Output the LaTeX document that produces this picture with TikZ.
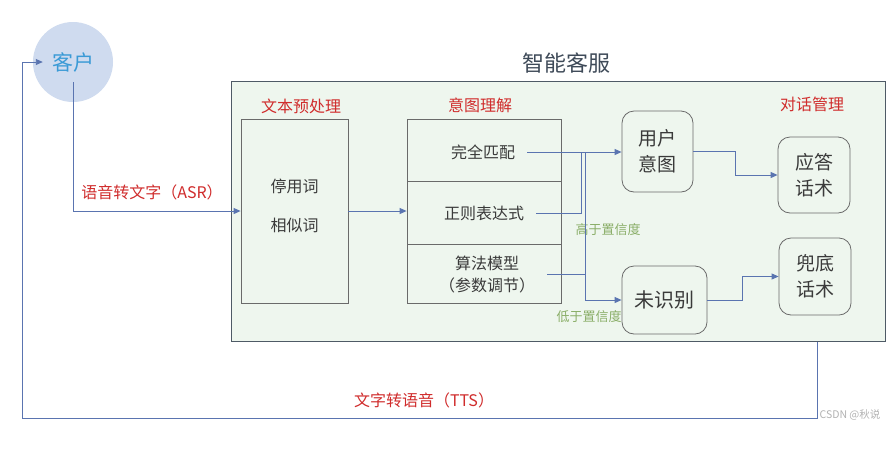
\documentclass[tikz,border=0pt]{standalone}
\usepackage{fontspec}
\setmainfont{Noto Sans CJK SC}
\usetikzlibrary{arrows.meta,calc}
\definecolor{arrowc}{HTML}{5A74B0}
\definecolor{redlab}{HTML}{D02C2C}
\definecolor{greenlab}{HTML}{8AAE68}
\definecolor{boxline}{HTML}{6A6A6A}
\definecolor{txt}{HTML}{3A3A3A}
\definecolor{svcfill}{HTML}{EEF6EE}
\definecolor{svcline}{HTML}{4E5A66}
\definecolor{clientfill}{HTML}{CFDBEF}
\definecolor{clienttxt}{HTML}{3A9AD6}
\definecolor{titlec}{HTML}{3E4A58}
\tikzset{
  arr/.style={draw=arrowc, line width=0.9pt, -{Triangle[length=7pt,width=6pt]}},
  ln/.style={draw=arrowc, line width=0.9pt},
  sqbox/.style={draw=boxline, line width=0.8pt, inner sep=0pt},
  rbox/.style={draw=boxline, line width=0.8pt, rounded corners=12pt, inner sep=0pt, align=center, text=txt, font=\fontsize{19}{26}\selectfont},
  celltxt/.style={text=txt, font=\fontsize{16}{21}\selectfont, inner sep=2pt, align=center},
  redlbl/.style={text=redlab, font=\fontsize{16}{20}\selectfont},
  grnlbl/.style={text=greenlab, font=\fontsize{13}{16}\selectfont},
}
\begin{document}
\begin{tikzpicture}[x=1pt,y=-1pt]
\useasboundingbox (0,0) rectangle (888,448);
\fill[white] (0,0) rectangle (888,448);

% container
\node[draw=svcline, fill=svcfill, line width=0.9pt, minimum width=654pt, minimum height=260pt, inner sep=0pt, anchor=north west] (svc) at (231,81) {};
\node[text=titlec, font=\fontsize{22}{26}\selectfont] (title) at (566,63) {智能客服};

% client
\node[circle, fill=clientfill, minimum size=80pt, inner sep=0pt, text=clienttxt, font=\fontsize{21}{24}\selectfont] (client) at (73,62) {客户};

% section labels
\node[redlbl] (lpre) at (301,106) {文本预处理};
\node[redlbl] (lint) at (480,105) {意图理解};
\node[redlbl] (ldlg) at (812,104) {对话管理};

% preprocessing box
\node[sqbox, minimum width=107pt, minimum height=184pt] (pre) at (294.5,211) {};
\node[celltxt] (w1) at (294.5,186) {停用词};
\node[celltxt] (w2) at (294.5,225) {相似词};

% intent cells
\node[sqbox, minimum width=154pt, minimum height=62pt] (c1) at (484,150) {};
\node[sqbox, minimum width=154pt, minimum height=63pt] (c2) at (484,212.5) {};
\node[sqbox, minimum width=154pt, minimum height=59pt] (c3) at (484,273.5) {};
\node[celltxt] (m1) at (483,152) {完全匹配};
\node[celltxt] (m2) at (484,213) {正则表达式};
\node[celltxt, font=\fontsize{16}{22}\selectfont] (m3) at (487,274) {算法模型\\（参数调节）};

% right boxes
\node[rbox, minimum width=71pt, minimum height=81pt] (user) at (657.5,151.5) {用户\\意图};
\node[rbox, minimum width=72pt, minimum height=76pt] (ans) at (814,175) {应答\\话术};
\node[rbox, minimum width=85pt, minimum height=68pt, font=\fontsize{20}{24}\selectfont] (unk) at (664.5,300) {未识别};
\node[rbox, minimum width=72pt, minimum height=77pt] (fb) at (815,276.5) {兜底\\话术};

% confidence labels
\node[grnlbl] (hi) at (608,230) {高于置信度};
\node[grnlbl] (lo) at (589,317) {低于置信度};

% flow labels
\node[redlbl] (asr) at (152,192) {语音转文字（ASR）};
\node[redlbl] (tts) at (424,400) {文字转语音（TTS）};

% watermark
\node[text=gray!60, font=\fontsize{10.5}{12}\selectfont] (wm) at (850,415) {CSDN @秋说};

% junction coordinates
\coordinate (j1) at (581,152);
\coordinate (j2) at (585,152);
\coordinate (j3) at (585,300);
\coordinate (b1) at (817,418);
\coordinate (b2) at (22,418);

% connectors
\draw[arr] ([yshift=-20pt]client.center) |- (pre.west);
\draw[arr] (pre.east) -- (pre.east -| c2.west);
\draw[arr] ([xshift=10pt]m1.east) -- (m1.east -| user.west);
\draw[ln] ([xshift=10pt]m2.east) -| (j1);
\draw[ln] ([xshift=10pt]m3.east |- 0,274) -- (585,274);
\draw[arr] (j2) -- (j3) -- (j3 -| unk.west);
\draw[arr] (user.east) -- ++(42,0) |- (ans.west);
\draw[arr] (unk.east) -- ++(35,0) |- (fb.west);
\draw[arr] (svc.south -| b1) -- (b1) -- (b2) |- ([xshift=10pt]client.west);
\end{tikzpicture}
\end{document}
